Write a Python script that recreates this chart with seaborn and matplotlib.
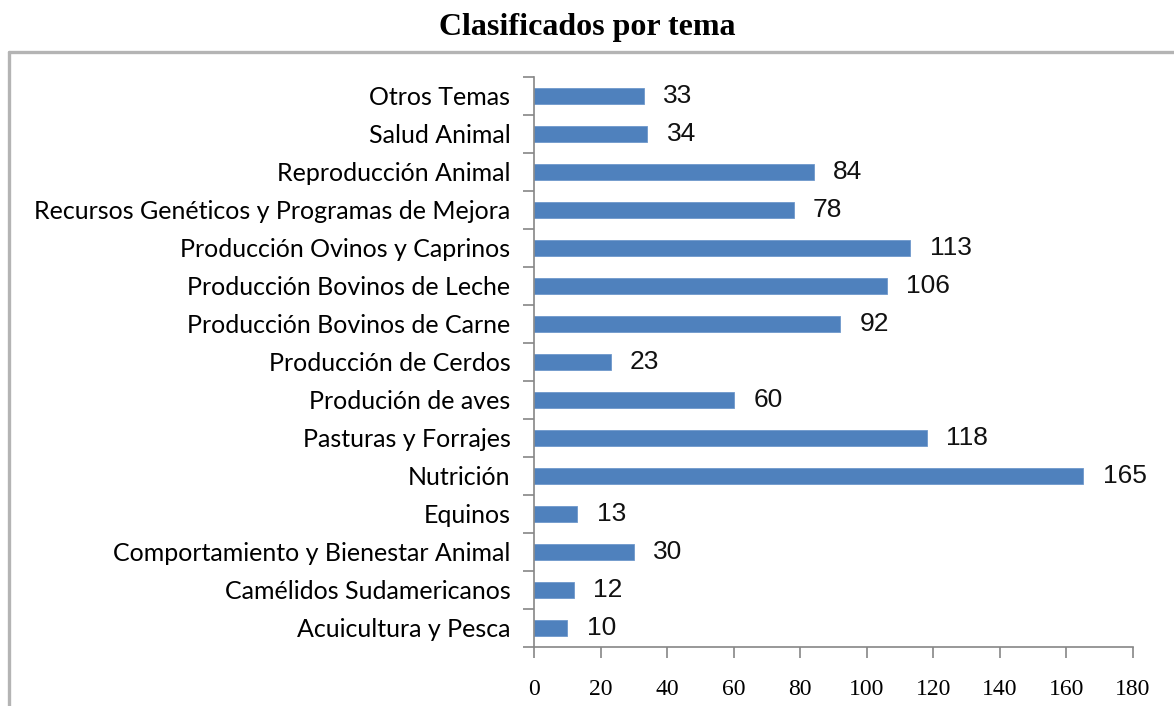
import matplotlib
matplotlib.use('Agg')
import matplotlib.pyplot as plt
from matplotlib.lines import Line2D
import seaborn as sns
import pandas as pd

temas = ['Otros Temas', 'Salud Animal', 'Reproducción Animal',
         'Recursos Genéticos y Programas de Mejora',
         'Producción Ovinos y Caprinos', 'Producción Bovinos de Leche',
         'Producción Bovinos de Carne', 'Producción de Cerdos',
         'Produción de aves', 'Pasturas y Forrajes', 'Nutrición', 'Equinos',
         'Comportamiento y Bienestar Animal', 'Camélidos Sudamericanos',
         'Acuicultura y Pesca']
cantidad = [33, 34, 84, 78, 113, 106, 92, 23, 60, 118, 165, 13, 30, 12, 10]
xticks = [0, 20, 40, 60, 80, 100, 120, 140, 160, 180]

df = pd.DataFrame({'tema': temas, 'n': cantidad})

sns.set_style('white')
plt.rcParams['font.family'] = ['Lato', 'DejaVu Sans']

fig = plt.figure(figsize=(11.74, 7.06), dpi=100)
ax = fig.add_axes([0.4549, 0.0836, 0.5102, 0.8074])

sns.barplot(data=df, x='n', y='tema', order=temas, color='#4F81BD',
            saturation=1, width=0.42, edgecolor='#6F98CC', linewidth=0.6,
            ax=ax)

ax.bar_label(ax.containers[0], padding=14, fontsize=19,
             family='Liberation Sans', color='#111111')

ax.set_xlim(0, 180)
ax.set_ylim(14.5, -0.5)
ax.set_xticks(xticks)
ax.set_xticklabels([str(t) for t in xticks], family='Liberation Serif',
                   fontsize=17, color='#000000')
ax.set_yticks(range(len(temas)))
ax.set_yticklabels(temas, fontsize=18, color='#000000')
ax.set_yticks([i - 0.5 for i in range(len(temas) + 1)], minor=True)
ax.tick_params(axis='y', which='major', length=0, pad=17)
ax.tick_params(axis='y', which='minor', left=True, length=8, width=1.2,
               color='#868686', direction='out')
ax.tick_params(axis='x', bottom=True, length=8, width=1.2, color='#868686',
               direction='out', pad=15)
ax.set_xlabel('')
ax.set_ylabel('')

for s in ['top', 'right']:
    ax.spines[s].set_visible(False)
for s in ['left', 'bottom']:
    ax.spines[s].set_color('#868686')
    ax.spines[s].set_linewidth(1.2)

# marco gris (solo arriba e izquierda visibles)
fig.add_artist(Line2D([0.0077, 1.0], [1 - 52 / 706, 1 - 52 / 706],
                      color='#b4b4b4', linewidth=2.4, transform=fig.transFigure))
fig.add_artist(Line2D([0.0077, 0.0077], [0, 1 - 52 / 706],
                      color='#b4b4b4', linewidth=2.4, transform=fig.transFigure))

fig.text(0.5, 1 - 28 / 706, 'Clasificados por tema', ha='center', va='center',
         family='Liberation Serif', fontweight='bold', fontsize=23,
         color='#000000')

fig.savefig('out.png', dpi=100)
